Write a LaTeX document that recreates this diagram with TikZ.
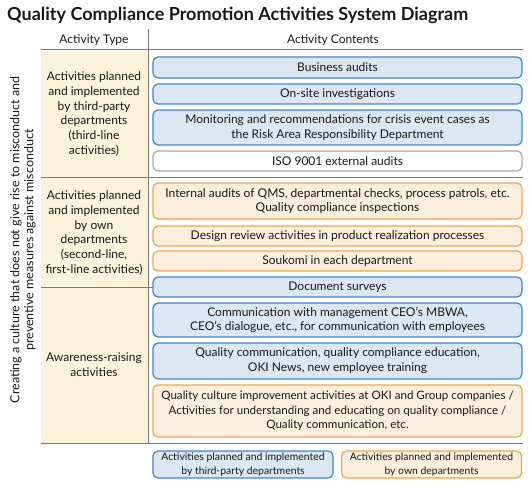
\documentclass[tikz,border=0pt]{standalone}
\usepackage{fontspec}
\setmainfont{Lato}
\definecolor{yFill}{HTML}{FCF3DA}
\definecolor{bFill}{HTML}{DDE6F3}
\definecolor{bBorder}{HTML}{3C88CF}
\definecolor{oFill}{HTML}{FDEFDD}
\definecolor{oBorder}{HTML}{F2A54A}
\definecolor{gBorder}{HTML}{A8A8A8}
\definecolor{rule}{HTML}{7A7A7A}
\begin{document}
\begin{tikzpicture}[x=1pt,y=-1pt,
  every node/.style={font=\fontsize{12}{14.7}\selectfont, inner sep=0pt, text=black!90},
  cbox/.style={draw, rounded corners=5pt, line width=1.2pt, minimum width=369pt, align=center},
  bluebox/.style={cbox, draw=bBorder, fill=bFill},
  orangebox/.style={cbox, draw=oBorder, fill=oFill},
  graybox/.style={cbox, draw=gBorder, fill=white},
  legbox/.style={draw, rounded corners=5pt, line width=1.2pt, minimum width=180pt, minimum height=27pt, align=center, font=\fontsize{10.4}{13.3}\selectfont},
  rulel/.style={draw=rule, line width=1pt},
  typetext/.style={align=center}
]
\useasboundingbox (0,0) rectangle (530,487);
% title
\node[anchor=west, font=\fontsize{18}{20}\selectfont\bfseries] (title) at (7,15) {Quality Compliance Promotion Activities System Diagram};
% left column fill
\fill[yFill] (41,51) rectangle (148,443);
% rules
\draw[rulel] (41,50) -- (523,50);
\draw[rulel] (148,29) -- (148,443);
\draw[rulel] (41,177) -- (523,177);
\draw[rulel] (41,287) -- (153,287);
\draw[rulel] (41,443) -- (523,443);
% headers
\node (h1) at (94,40) {Activity Type};
\node (h2) at (333,40) {Activity Contents};
% side text
\node[rotate=90, align=center, font=\fontsize{12.5}{14}\selectfont] (side) at (23,240) {Creating a culture that does not give rise to misconduct and\\preventive measures against misconduct};
% type texts
\node[typetext] (t1) at (94,114) {Activities planned\\and implemented\\by third-party\\departments\\(third-line\\activities)};
\node[typetext] (t2) at (94,233) {Activities planned\\and implemented\\by own\\departments\\(second-line,\\first-line activities)};
\node[typetext] (t3) at (94,365) {Awareness-raising\\activities};
% content boxes
\node[bluebox, minimum height=21pt] (b1) at (337.5,67.5) {Business audits};
\node[bluebox, minimum height=20pt] (b2) at (337.5,94) {On-site investigations};
\node[bluebox, minimum height=35pt] (b3) at (337.5,127.5) {Monitoring and recommendations for crisis event cases as\\the Risk Area Responsibility Department};
\node[graybox, minimum height=20pt] (b4) at (337.5,161) {ISO 9001 external audits};
\node[orangebox, minimum height=36pt] (o1) at (337.5,201) {Internal audits of QMS, departmental checks, process patrols, etc.\\Quality compliance inspections};
\node[orangebox, minimum height=20pt] (o2) at (337.5,236) {Design review activities in product realization processes};
\node[orangebox, minimum height=20pt] (o3) at (337.5,261) {Soukomi in each department};
\node[bluebox, minimum height=20pt] (b5) at (337.5,287) {Document surveys};
\node[bluebox, minimum height=34pt] (b6) at (337.5,320) {Communication with management CEO’s MBWA,\\CEO’s dialogue, etc., for communication with employees};
\node[bluebox, minimum height=36pt] (b7) at (337.5,361) {Quality communication, quality compliance education,\\OKI News, new employee training};
\node[orangebox, minimum height=52pt, font=\fontsize{11.6}{14.7}\selectfont] (o4) at (337.5,411) {Quality culture improvement activities at OKI and Group companies /\\Activities for understanding and educating on quality compliance /\\Quality communication, etc.};
% legend
\node[legbox, draw=bBorder, fill=bFill] (l1) at (243,464.5) {Activities planned and implemented\\by third-party departments};
\node[legbox, draw=oBorder, fill=oFill] (l2) at (431.5,464.5) {Activities planned and implemented\\by own departments};
\end{tikzpicture}
\end{document}
